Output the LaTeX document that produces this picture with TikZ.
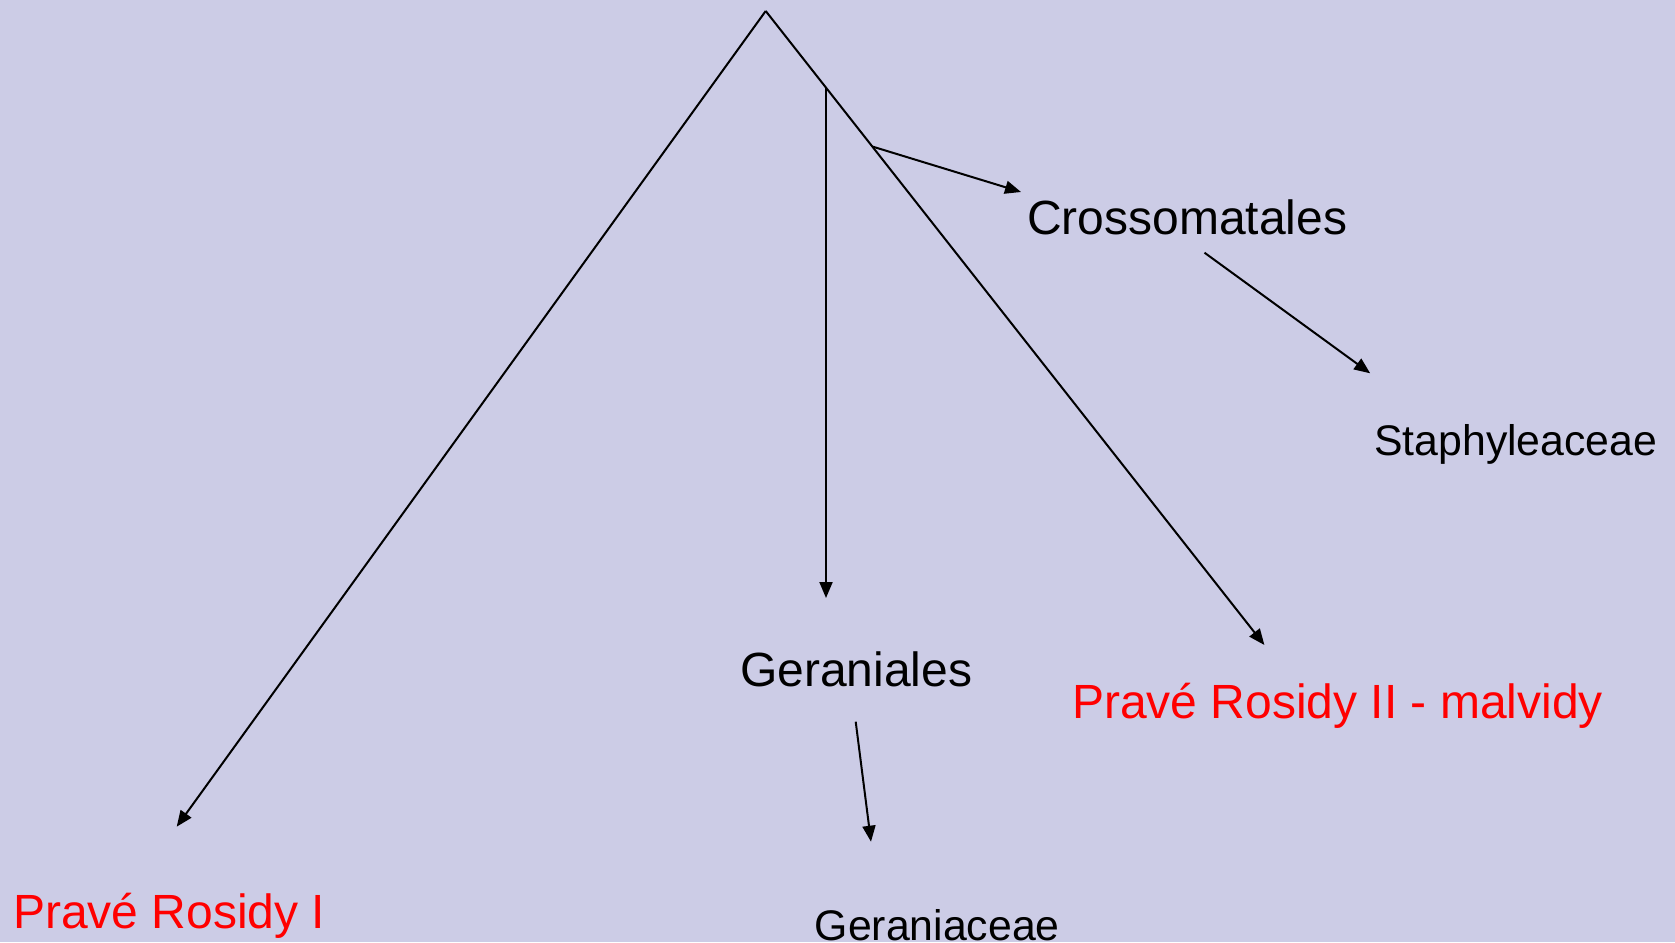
\documentclass[tikz,border=0pt]{standalone}
\usepackage{fontspec}
\setmainfont{Liberation Sans}
\usetikzlibrary{arrows.meta}
\definecolor{bgcol}{RGB}{204,204,230}
\definecolor{redtxt}{RGB}{255,0,0}
\tikzset{
  conn/.style={line width=2pt, draw=black},
  arr/.style={conn, -{Triangle[length=16pt,width=13pt]}},
  lbl/.style={anchor=base west, inner sep=0pt, text=black},
  big/.style={font=\fontsize{48}{56}\selectfont},
  small/.style={font=\fontsize{42.8}{50}\selectfont},
  redlbl/.style={lbl, text=redtxt}
}
\begin{document}
\begin{tikzpicture}[x=1pt,y=-1pt]
\fill[bgcol] (0,0) rectangle (1675,942);
\useasboundingbox (0,0) rectangle (1675,942);
% structural points
\coordinate (apex) at (765.7,11);
\coordinate (b1) at (826,87.7);
\coordinate (b2) at (872.6,146.6);
\coordinate (endL) at (176.7,826.7);
\coordinate (endR) at (1264.4,645);
\coordinate (endV) at (826,598);
\coordinate (endC) at (1021,192);
\coordinate (cS0) at (1204.5,252.7);
\coordinate (cS1) at (1370.2,373.3);
\coordinate (gG0) at (855.7,721.7);
\coordinate (gG1) at (871,841.7);
% labels
\node[lbl,big] (cross) at (1027,234) {Crossomatales};
\node[lbl,small] (staph) at (1374,455) {Staphyleaceae};
\node[lbl,big] (geral) at (740,686.7) {Geraniales};
\node[lbl,small] (gerac) at (814.5,940) {Geraniaceae};
\node[redlbl,big] (pr1) at (13,928.3) {Pravé Rosidy I};
\node[redlbl,big] (pr2) at (1072,718.3) {Pravé Rosidy II - malvidy};
% connectors
\draw[arr] (apex) -- (endL);
\draw[arr] (apex) -- (endR);
\draw[arr] (b1) -- (endV);
\draw[arr] (b2) -- (endC);
\draw[arr] (cS0) -- (cS1);
\draw[arr] (gG0) -- (gG1);
\end{tikzpicture}
\end{document}
